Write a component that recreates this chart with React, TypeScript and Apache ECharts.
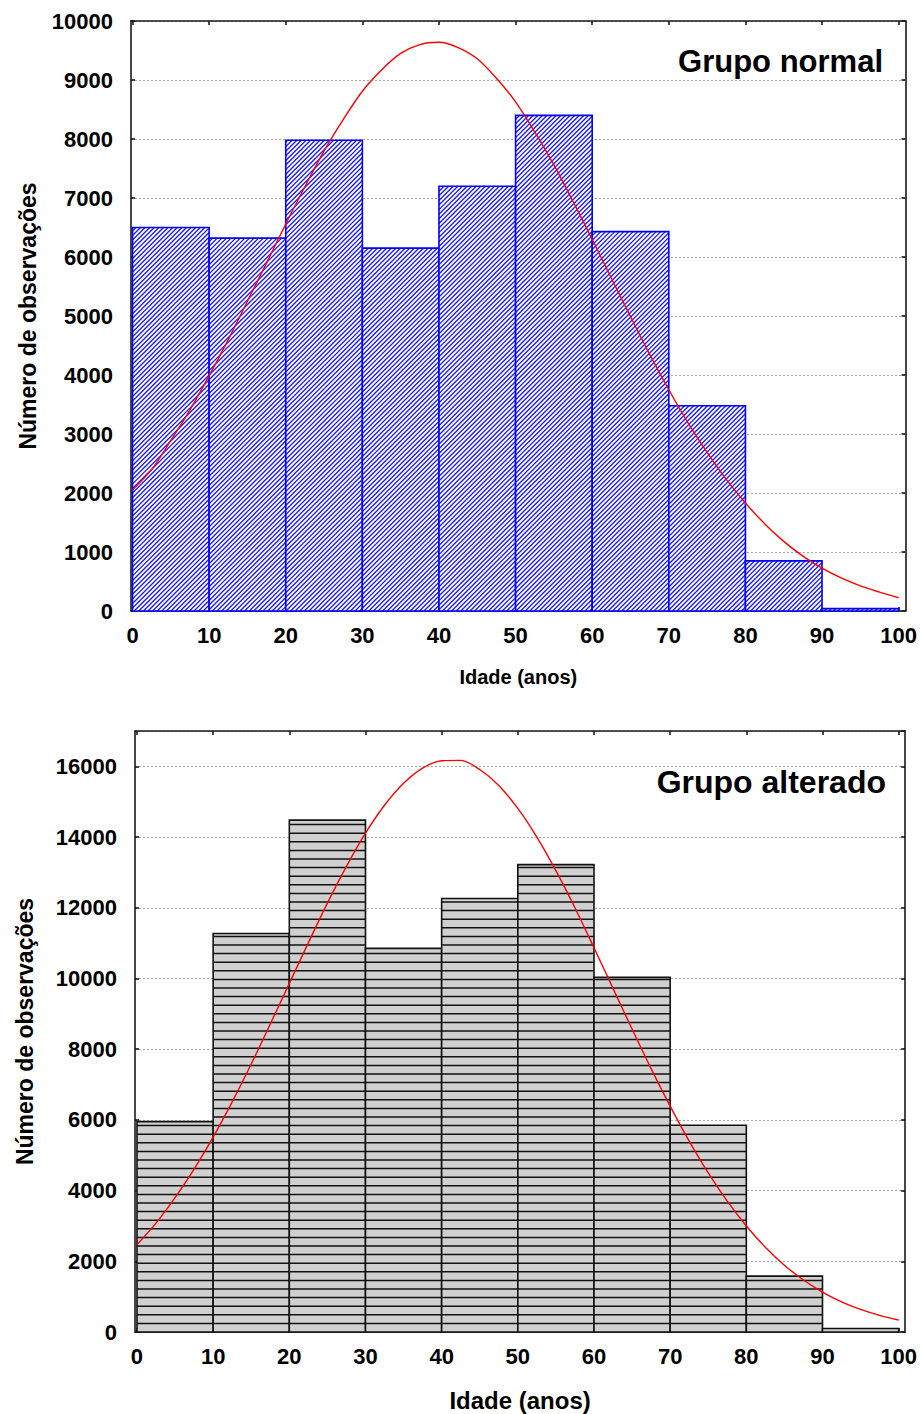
import React, { useEffect, useRef } from "react";
import * as echarts from "echarts";

const binStarts = [0, 10, 20, 30, 40, 50, 60, 70, 80, 90];
const binEnds = [10, 20, 30, 40, 50, 60, 70, 80, 90, 100];
const normalCounts = [6500, 6320, 7980, 6150, 7200, 8400, 6430, 3480, 850, 40];
const alteredCounts = [5950, 11270, 14480, 10850, 12260, 13220, 10030, 5850, 1580, 100];
const curveAges = [
  0, 2.5, 5, 7.5, 10, 12.5, 15, 17.5, 20, 22.5, 25, 27.5, 30, 32.5, 35, 37.5, 40, 42.5, 45, 47.5, 50,
  52.5, 55, 57.5, 60, 62.5, 65, 67.5, 70, 72.5, 75, 77.5, 80, 82.5, 85, 87.5, 90, 92.5, 95, 97.5, 100,
];
const normalCurve = [
  2050, 2400, 2890, 3410, 3990, 4600, 5250, 5900, 6560, 7190, 7800, 8330, 8810, 9170, 9450, 9600, 9640,
  9550, 9360, 9030, 8630, 8120, 7560, 6940, 6300, 5640, 4990, 4350, 3750, 3190, 2690, 2230, 1830, 1480,
  1180, 930, 725, 560, 425, 320, 225,
];
const alteredCurve = [
  2470, 3080, 3800, 4610, 5510, 6510, 7580, 8710, 9860, 11010, 12130, 13170, 14110, 14900, 15520, 15950,
  16160, 16170, 15910, 15460, 14810, 14000, 13050, 12000, 10870, 9720, 8570, 7450, 6390, 5400, 4500, 3700,
  3000, 2400, 1890, 1470, 1130, 855, 640, 470, 340,
];
const xTicks = [0, 10, 20, 30, 40, 50, 60, 70, 80, 90, 100];
const titles = ["Grupo normal", "Grupo alterado"];
const xName = "Idade (anos)";
const yName = "Número de observações";

const FONT = '"Liberation Sans", Arial, sans-serif';
const FRAME = { color: "#1a1a1a", width: 1.6 };

function makeRenderer(kind: "hatch" | "lines") {
  return (params: any, api: any) => {
    const x0 = api.value(0);
    const x1 = api.value(1);
    const v = api.value(2);
    const tl = api.coord([x0, v]);
    const br = api.coord([x1, 0]);
    const L = tl[0], T = tl[1], R = br[0], B = br[1];
    const children: any[] = [
      {
        type: "rect",
        shape: { x: L, y: T, width: R - L, height: B - T },
        style: { fill: kind === "hatch" ? "#ffffff" : "#d0d0d0" },
      },
    ];
    if (kind === "hatch") {
      const step = 4.6;
      const cStart = Math.ceil((L + T) / step) * step;
      for (let c = cStart; c <= R + B; c += step) {
        const xa = Math.max(L, c - B);
        const xb = Math.min(R, c - T);
        if (xb - xa < 0.3) continue;
        children.push({
          type: "line",
          shape: { x1: xa, y1: c - xa, x2: xb, y2: c - xb },
          style: { stroke: "#1a1aff", lineWidth: 1.35 },
        });
      }
    } else {
      const step = 8.6;
      for (let y = B - step; y > T + 1.5; y -= step) {
        children.push({
          type: "line",
          shape: { x1: L, y1: y, x2: R, y2: y },
          style: { stroke: "#111111", lineWidth: 1.5 },
        });
      }
    }
    children.push({
      type: "rect",
      shape: { x: L, y: T, width: R - L, height: B - T },
      style: {
        fill: "none",
        stroke: kind === "hatch" ? "#0000ff" : "#111111",
        lineWidth: 1.6,
      },
    });
    return { type: "group", children };
  };
}

const plain = (v: number) => String(v);

function xAxes(gridIndex: number, min: number, max: number, nameSize: number) {
  return [
    {
      gridIndex,
      type: "value",
      position: "bottom",
      min,
      max,
      axisLine: { show: true, onZero: false, lineStyle: FRAME },
      axisTick: { show: true, inside: true, length: 4, customValues: xTicks, lineStyle: FRAME },
      axisLabel: {
        customValues: xTicks,
        formatter: plain,
        fontSize: 22,
        fontWeight: "bold",
        fontFamily: FONT,
        color: "#000",
        margin: 13,
      },
      splitLine: { show: false },
      name: xName,
      nameLocation: "middle",
      nameGap: 56,
      nameTextStyle: { fontSize: nameSize, fontWeight: "bold", fontFamily: FONT, color: "#000", verticalAlign: "top" },
    },
    {
      gridIndex,
      type: "value",
      position: "top",
      min,
      max,
      axisLine: { show: true, onZero: false, lineStyle: FRAME },
      axisTick: { show: true, inside: true, length: 4, customValues: xTicks, lineStyle: FRAME },
      axisLabel: { show: false },
      splitLine: { show: false },
    },
  ];
}

function yAxes(gridIndex: number, max: number, interval: number, nameGap: number) {
  return [
    {
      gridIndex,
      type: "value",
      position: "left",
      min: 0,
      max,
      interval,
      axisLine: { show: true, onZero: false, lineStyle: FRAME },
      axisTick: { show: true, inside: true, length: 4, lineStyle: FRAME },
      axisLabel: {
        formatter: plain,
        fontSize: 22,
        fontWeight: "bold",
        fontFamily: FONT,
        color: "#000",
        margin: 18,
        showMaxLabel: max % interval === 0,
      },
      splitLine: { show: true, lineStyle: { color: "#a8a8a8", width: 1, type: [2, 2] } },
      name: yName,
      nameLocation: "middle",
      nameRotate: 90,
      nameGap,
      nameTextStyle: { fontSize: 23, fontWeight: "bold", fontFamily: FONT, color: "#000" },
    },
    {
      gridIndex,
      type: "value",
      position: "right",
      min: 0,
      max,
      interval,
      axisLine: { show: true, onZero: false, lineStyle: FRAME },
      axisTick: { show: true, inside: true, length: 4, lineStyle: FRAME },
      axisLabel: { show: false },
      splitLine: { show: false },
    },
  ];
}

export default function App() {
  const ref = useRef<HTMLDivElement>(null);
  useEffect(() => {
    if (!ref.current) return;
    const chart = echarts.init(ref.current, null, { renderer: "svg" });
    const normalBars = binStarts.map((s, i) => [s, binEnds[i], normalCounts[i]]);
    const alteredBars = binStarts.map((s, i) => [s, binEnds[i], alteredCounts[i]]);
    const option: any = {
      animation: false,
      backgroundColor: "#ffffff",
      grid: [
        { left: 131, top: 21, width: 779, height: 590 },
        { left: 135, top: 731, width: 771, height: 601 },
      ],
      xAxis: [...xAxes(0, -0.2, 100.9, 20), ...xAxes(1, -0.26, 100.85, 24)],
      yAxis: [...yAxes(0, 10000, 1000, 92), ...yAxes(1, 17000, 2000, 99)],
      graphic: [
        {
          type: "text",
          x: 883,
          y: 61,
          style: {
            text: titles[0],
            font: `bold 31px ${FONT}`,
            fill: "#000",
            align: "right",
            verticalAlign: "middle",
          },
          z: 100,
        },
        {
          type: "text",
          x: 886,
          y: 782,
          style: {
            text: titles[1],
            font: `bold 32px ${FONT}`,
            fill: "#000",
            align: "right",
            verticalAlign: "middle",
          },
          z: 100,
        },
      ],
      series: [
        {
          type: "custom",
          xAxisIndex: 0,
          yAxisIndex: 0,
          renderItem: makeRenderer("hatch"),
          encode: { x: [0, 1], y: 2 },
          data: normalBars,
          z: 2,
        },
        {
          type: "line",
          xAxisIndex: 0,
          yAxisIndex: 0,
          data: curveAges.map((a, i) => [a, normalCurve[i]]),
          smooth: 0.3,
          showSymbol: false,
          lineStyle: { color: "#ff0000", width: 1.4 },
          z: 5,
        },
        {
          type: "custom",
          xAxisIndex: 2,
          yAxisIndex: 2,
          renderItem: makeRenderer("lines"),
          encode: { x: [0, 1], y: 2 },
          data: alteredBars,
          z: 2,
        },
        {
          type: "line",
          xAxisIndex: 2,
          yAxisIndex: 2,
          data: curveAges.map((a, i) => [a, alteredCurve[i]]),
          smooth: 0.3,
          showSymbol: false,
          lineStyle: { color: "#ff0000", width: 1.4 },
          z: 5,
        },
      ],
    };
    chart.setOption(option);
    return () => chart.dispose();
  }, []);
  return (
    <div
      ref={ref}
      style={{ position: "absolute", left: 0, top: 0, width: 920, height: 1414, background: "#fff" }}
    />
  );
}
